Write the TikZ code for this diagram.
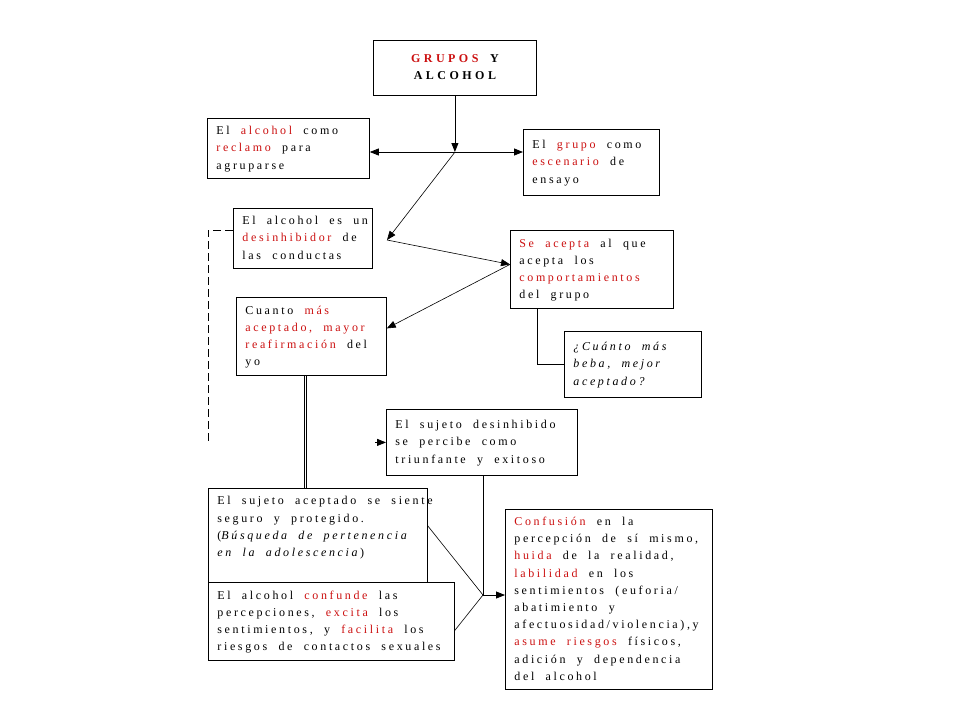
\documentclass[tikz,border=0pt]{standalone}
\usepackage{fontspec}
\setmainfont{Liberation Serif}[LetterSpace=22,WordSpace=2.0]
\newfontfamily\titlefont{Liberation Serif}[LetterSpace=29,WordSpace=1.8]
\usetikzlibrary{arrows.meta}
\definecolor{hired}{RGB}{204,16,16}
\newcommand{\rd}[1]{\textcolor{hired}{#1}}
\newcommand{\boxfont}{\fontsize{12}{17.2}\selectfont}
\newcommand{\lines}[1]{\spaceskip=0pt\relax\begin{tabular}{@{}l@{}}#1\end{tabular}}

\begin{document}
\begin{tikzpicture}[x=1pt,y=-1pt,
        >={Triangle[length=9pt,width=7pt]},
        box/.style = {draw,line width=0.8pt,fill=white,anchor=north west,
            inner xsep=9pt,inner ysep=4pt,font=\boxfont},
        link/.style = {line width=0.6pt},
        arrow/.style = {->,line width=0.8pt}]
    \useasboundingbox (0,0) rectangle (960,720);
    % boxes
    \node[box,minimum width=163pt,minimum height=55pt,
        font=\titlefont\bfseries\boxfont]
        (title) at (373,40) {\begin{tabular}{@{}c@{}}\rd{GRUPOS} Y\\ ALCOHOL\end{tabular}};
    \node[box,text width=144pt,minimum height=60pt] (reclamo) at (207,118)
        {\lines{El \rd{alcohol} como\\ \rd{reclamo} para\\ agruparse}};
    \node[box,text width=118pt,minimum height=66pt] (escenario) at (523,129)
        {\lines{El \rd{grupo} como\\ \rd{escenario} de\\ ensayo}};
    \node[box,text width=121pt,minimum height=60pt] (desinhib) at (233,208)
        {\lines{El alcohol es un\\ \rd{desinhibidor} de\\ las conductas}};
    \node[box,text width=145pt,minimum height=78pt] (acepta) at (510,230)
        {\lines{\rd{Se acepta} al que\\ acepta los\\ \rd{comportamientos}\\ del grupo}};
    \node[box,text width=132pt,minimum height=78pt] (cuanto) at (236,297)
        {\lines{Cuanto \rd{más}\\ \rd{aceptado, mayor}\\ \rd{reafirmación} del\\ yo}};
    \node[box,text width=119pt,minimum height=66pt] (beba) at (564,331)
        {\lines{\itshape ¿Cuánto más\\ \itshape beba, mejor\\ \itshape aceptado?}};
    \node[box,text width=173pt,minimum height=66pt] (triunfo) at (386,409)
        {\lines{El sujeto desinhibido\\ se percibe como\\ triunfante y exitoso}};
    \node[box,text width=201pt,minimum height=95pt] (seguro) at (208,488)
        {\lines{El sujeto aceptado se siente\\ seguro y protegido.\\
        (\textit{Búsqueda de pertenencia}\\ \textit{en la adolescencia})\\ \mbox{}}};
    \node[box,text width=228pt,minimum height=78pt] (confunde) at (208,582)
        {\lines{El alcohol \rd{confunde} las\\ percepciones, \rd{excita} los\\
        sentimientos, y \rd{facilita} los\\ riesgos de contactos sexuales}};
    \node[box,text width=189pt,minimum height=178pt] (confusion) at (505,509)
        {\lines{\rd{Confusión} en la\\ percepción de sí mismo,\\ \rd{huida} de la realidad,\\
        \rd{labilidad} en los\\ sentimientos (euforia/\\ abatimiento y\\
        afectuosidad/violencia),y\\ \rd{asume riesgos} físicos,\\
        adición y dependencia\\ del alcohol}};
    % connectors
    \coordinate (hub) at (455,152);
    \coordinate (dh) at (387,240);
    \coordinate (dashend) at (208,442);
    \coordinate (join) at (483,595);
    \draw[arrow] (title.south) -- (title.south |- hub);
    \draw[arrow,<->] (reclamo.east |- hub) -- (escenario.west |- hub);
    \draw[link,->] (hub) -- (dh);
    \draw[link,->] (dh) -- ([yshift=5pt]acepta.west);
    \draw[link,->] ([yshift=5pt]acepta.west) -- ([yshift=8pt]cuanto.east);
    \draw[arrow,-] ([xshift=27pt]acepta.south west) |- (beba.west);
    \draw[arrow,-,dash pattern=on 8pt off 4pt] ([yshift=8pt]desinhib.west) -| (dashend);
    \draw[arrow] ([xshift=-11pt]triunfo.west) -- (triunfo.west);
    \draw[link,double,double distance=1.8pt] ([xshift=-6pt]cuanto.south)
        -- ([xshift=-6pt]cuanto.south |- seguro.north);
    \draw[arrow,-] (triunfo.south -| join) -- (join);
    \draw[link] ([yshift=10pt]seguro.east) -- (join);
    \draw[link] ([yshift=-9pt]confunde.east) -- (join);
    \draw[arrow] (join) -- (confusion.west |- join);
\end{tikzpicture}
\end{document}
